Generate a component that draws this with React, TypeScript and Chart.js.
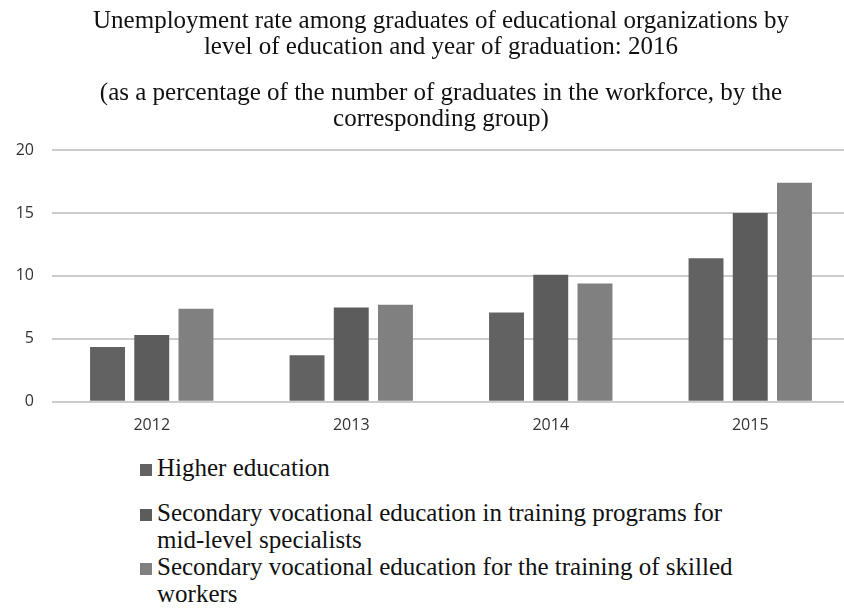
import React, { useEffect, useRef } from "react";
import { Chart, registerables } from "chart.js";

Chart.register(...registerables);

const categories = ["2012", "2013", "2014", "2015"];
const higherEducation = [4.35, 3.7, 7.1, 11.4];
const midLevelSpecialists = [5.3, 7.5, 10.1, 15.0];
const skilledWorkers = [7.4, 7.7, 9.4, 17.4];

const seriesLabels = [
  ["Higher education"],
  ["Secondary vocational education in training programs for", "mid-level specialists"],
  ["Secondary vocational education for the training of skilled", "workers"],
];
const seriesColors = ["#626262", "#5c5c5c", "#808080"];

const titleLines = [
  "Unemployment rate among graduates of educational organizations by",
  "level of education and year of graduation: 2016",
];
const subtitleLines = [
  "(as a percentage of the number of graduates in the workforce, by the",
  "corresponding group)",
];

const yMin = 0;
const yMax = 20;
const yStep = 5;

const SERIF = "'Liberation Serif', 'Times New Roman', serif";
const SANS = "'Open Sans', 'Liberation Sans', sans-serif";

export default function App() {
  const canvasRef = useRef<HTMLCanvasElement | null>(null);

  useEffect(() => {
    if (!canvasRef.current) return;
    const values = [higherEducation, midLevelSpecialists, skilledWorkers];
    const chart = new Chart(canvasRef.current, {
      type: "bar",
      data: {
        labels: categories,
        datasets: values.map((v, i) => ({
          label: seriesLabels[i].join(" "),
          data: v,
          backgroundColor: seriesColors[i],
          borderWidth: 0,
          categoryPercentage: 0.665,
          barPercentage: 0.79,
        })),
      },
      options: {
        responsive: false,
        animation: false,
        layout: { padding: { left: 0, right: 0, top: 150, bottom: 0 } },
        plugins: {
          legend: { display: false },
          tooltip: { enabled: false },
          title: { display: false },
          subtitle: { display: false },
        },
        scales: {
          x: {
            grid: { display: false, drawTicks: false },
            border: { display: false },
            ticks: {
              color: "#333333",
              font: { family: SANS, size: 16 },
              padding: 14,
            },
          },
          y: {
            min: yMin,
            max: yMax,
            grid: { color: "#cccccc", lineWidth: 2, drawTicks: false },
            border: { display: false },
            ticks: {
              stepSize: yStep,
              color: "#333333",
              font: { family: SANS, size: 16 },
              padding: 18,
            },
            afterFit: (scale: any) => {
              scale.width = 52;
            },
          },
        },
      },
    });
    return () => chart.destroy();
  }, []);

  const textBlock = (lines: string[], top: number) => (
    <div
      style={{
        position: "absolute",
        left: 0,
        top,
        width: 882,
        textAlign: "center",
        fontFamily: SERIF,
        fontSize: 25,
        lineHeight: "26px",
        color: "#111",
        whiteSpace: "nowrap",
      }}
    >
      {lines.map((l, i) => (
        <div key={i}>{l}</div>
      ))}
    </div>
  );

  return (
    <div style={{ position: "absolute", left: 0, top: 0, width: 844, height: 608, overflow: "hidden", background: "#fff" }}>
      <canvas ref={canvasRef} width={850} height={449} style={{ display: "block", width: 850, height: 449 }} />
      {textBlock(titleLines, 7)}
      {textBlock(subtitleLines, 79)}
      <div style={{ position: "absolute", left: 140, top: 454, fontFamily: SERIF, fontSize: 25, lineHeight: "27px", color: "#111" }}>
        {seriesLabels.map((lines, i) => (
          <div key={i} style={{ display: "flex", alignItems: "flex-start", marginBottom: i === 0 ? 18 : 0 }}>
            <span style={{ display: "inline-block", width: 12, height: 12, background: seriesColors[i], marginTop: 10, marginRight: 5, flex: "none" }} />
            <span>
              {lines.map((l, j) => (
                <div key={j} style={{ whiteSpace: "nowrap" }}>{l}</div>
              ))}
            </span>
          </div>
        ))}
      </div>
    </div>
  );
}
